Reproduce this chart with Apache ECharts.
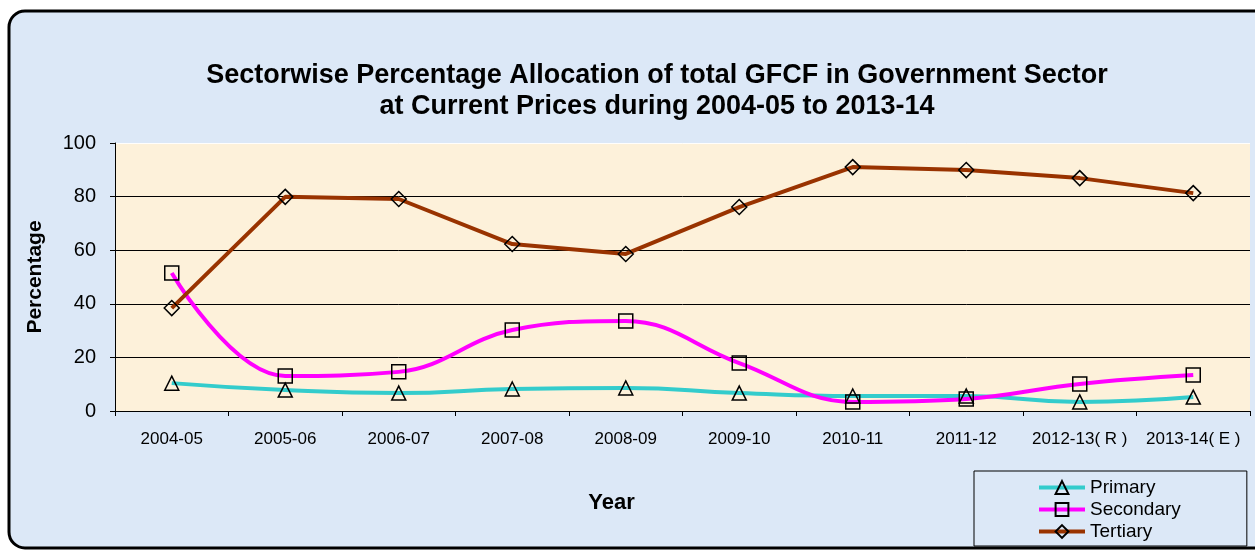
<!DOCTYPE html>
<html>
<head>
<meta charset="utf-8">
<script src="https://cdn.jsdelivr.net/npm/echarts@6/dist/echarts.min.js"></script>
<style>html,body{margin:0;padding:0;background:#fff}#c{width:1255px;height:550px}</style>
</head>
<body>
<div id="c"></div>
<script>
const categories = ['2004-05','2005-06','2006-07','2007-08','2008-09','2009-10','2010-11','2011-12','2012-13( R )','2013-14( E )'];
const primary   = [10.4, 7.8, 6.7, 8.2, 8.6, 6.7, 5.6, 5.6, 3.4, 5.2];
const secondary = [51.5, 13.1, 14.6, 30.2, 33.6, 17.9, 3.4, 4.5, 10.1, 13.4];
const tertiary  = [38.4, 79.9, 79.1, 62.3, 58.6, 76.1, 91.0, 89.9, 86.9, 81.3];
const yTicks = [0, 20, 40, 60, 80, 100];

const font = '"Liberation Sans", Arial, sans-serif';
const chart = echarts.init(document.getElementById('c'), null, {renderer: 'canvas'});

function mk(name, data, color, symbol, smooth) {
  return {
    name, type: 'line', data, smooth, symbol, symbolSize: symbol === 'diamond' ? 15 : 14,
    lineStyle: {color, width: 4},
    itemStyle: {color: 'rgba(0,0,0,0)', borderColor: '#000', borderWidth: 1.5},
    emphasis: {disabled: true}, z: 3
  };
}

chart.setOption({
  backgroundColor: '#ffffff',
  animation: false,
  graphic: [{
    type: 'rect', z: -10, silent: true,
    shape: {x: 9, y: 11, width: 1270, height: 537, r: 16},
    style: {fill: '#dce8f7', stroke: '#000', lineWidth: 3}
  }],
  title: {
    text: 'Sectorwise Percentage Allocation of total GFCF in Government Sector\nat Current Prices during 2004-05 to 2013-14',
    left: 652, top: 55, textAlign: 'center',
    textStyle: {fontFamily: font, fontWeight: 'bold', fontSize: 27, lineHeight: 31, color: '#000'}
  },
  legend: {
    orient: 'vertical', left: 974, top: 471,
    padding: [7, 66, 5, 63], itemGap: 3, itemWidth: 46, itemHeight: 16,
    borderColor: '#000', borderWidth: 1, backgroundColor: '#dce8f7',
    lineStyle: {width: 4},
    textStyle: {fontFamily: font, fontSize: 19, color: '#000'},
    data: ['Primary', 'Secondary', 'Tertiary']
  },
  grid: {
    left: 115, right: 5, top: 143, bottom: 139,
    show: true, backgroundColor: '#fdf1da', borderWidth: 0
  },
  xAxis: {
    type: 'category', data: categories, boundaryGap: true,
    name: 'Year', nameLocation: 'middle', nameGap: 81,
    nameTextStyle: {fontFamily: font, fontWeight: 'bold', fontSize: 22, color: '#000', padding: [0, 142, 0, 0]},
    axisLine: {lineStyle: {color: '#000', width: 1}},
    axisTick: {show: true, length: 5, lineStyle: {color: '#000'}},
    axisLabel: {fontFamily: font, fontSize: 17, color: '#000', margin: 20, interval: 0}
  },
  yAxis: {
    type: 'value', min: yTicks[0], max: yTicks[yTicks.length - 1], interval: 20,
    name: 'Percentage', nameLocation: 'middle', nameGap: 69, nameRotate: 90,
    nameTextStyle: {fontFamily: font, fontWeight: 'bold', fontSize: 21, color: '#000'},
    axisLine: {show: true, lineStyle: {color: '#000', width: 1}},
    axisTick: {show: true, length: 5, lineStyle: {color: '#000'}},
    axisLabel: {fontFamily: font, fontSize: 20, color: '#000', margin: 19},
    splitLine: {show: true, lineStyle: {color: ['#000','#000','#000','#000','#000','rgba(255,255,255,0.9)'], width: 1}}
  },
  series: [
    mk('Primary', primary, '#33cccc', 'triangle', 0.5),
    mk('Secondary', secondary, '#ff00ff', 'rect', 0.4),
    mk('Tertiary', tertiary, '#993300', 'diamond', false)
  ]
});
</script>
</body>
</html>
